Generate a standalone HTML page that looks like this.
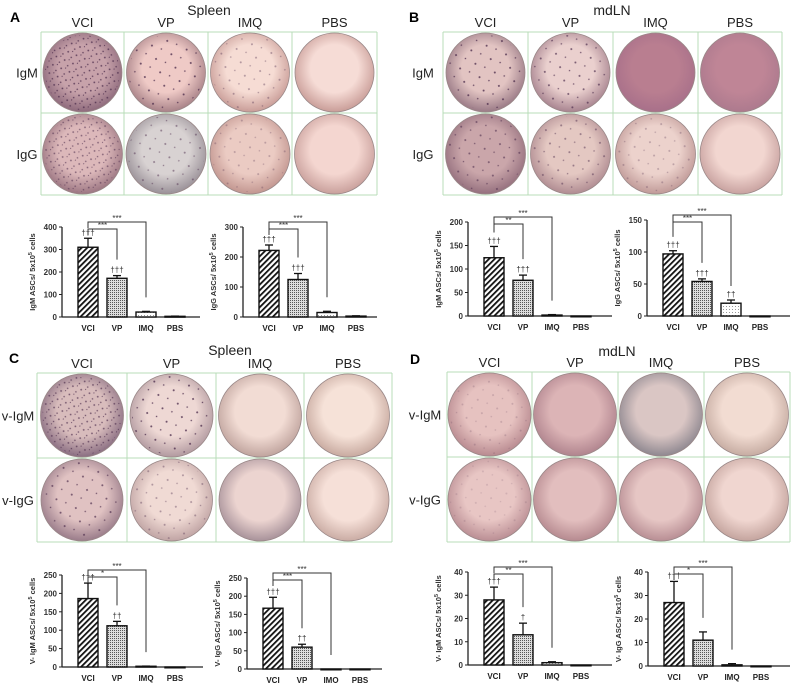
<!DOCTYPE html>
<html><head><meta charset="utf-8"><style>
html,body{margin:0;padding:0;background:#fff}
svg{display:block}
text{font-family:"Liberation Sans",sans-serif}
</style></head><body>
<svg id="fig" width="794" height="683" viewBox="0 0 794 683" xmlns="http://www.w3.org/2000/svg">
<defs>
<pattern id="hatch" width="4" height="4" patternUnits="userSpaceOnUse" patternTransform="rotate(45)">
<rect width="4" height="4" fill="#fff"/><rect width="1.8" height="4" fill="#111"/></pattern>
<pattern id="dense" width="2" height="2" patternUnits="userSpaceOnUse">
<rect width="2" height="2" fill="#ddd"/><rect width="1" height="1" fill="#555"/></pattern>
<pattern id="light" width="3" height="3" patternUnits="userSpaceOnUse">
<rect width="3" height="3" fill="#fff"/><rect width="1" height="1" fill="#999"/></pattern>
<pattern id="speck" width="9" height="9" patternUnits="userSpaceOnUse" patternTransform="rotate(23)">
<circle cx="2" cy="3" r="0.9" fill="#4a2a4a"/><circle cx="7" cy="7" r="0.8" fill="#4a2a4a"/><circle cx="6" cy="1" r="0.6" fill="#4a2a4a"/></pattern>
<pattern id="speck2" width="16" height="14" patternUnits="userSpaceOnUse" patternTransform="rotate(-17)">
<circle cx="4" cy="4" r="1" fill="#4a2a4a"/><circle cx="12" cy="10" r="0.8" fill="#4a2a4a"/></pattern>
</defs>
<g id="photos"></g>
<g id="charts"></g>
</svg>
<script>
const NS="http://www.w3.org/2000/svg";
const categories=['VCI','VP','IMQ','PBS'];
// chart data
const a1Means=[310,172,22,3], a1Errs=[40,12,3,1], a1Dag=['†††','†††','',''], a1Sig=['***','***'];
const a2Means=[222,125,15,3], a2Errs=[18,20,4,1], a2Dag=['†††','†††','',''], a2Sig=['***','***'];
const b1Means=[124,76,2,0], b1Errs=[24,11,1,0], b1Dag=['†††','†††','',''], b1Sig=['**','***'];
const b2Means=[97,54,20,0], b2Errs=[5,4,5,0], b2Dag=['†††','†††','††',''], b2Sig=['***','***'];
const c1Means=[186,112,2,0], c1Errs=[42,12,0.5,0], c1Dag=['†††','††','',''], c1Sig=['*','***'];
const c2Means=[167,60,0,0], c2Errs=[30,8,0,0], c2Dag=['†††','††','',''], c2Sig=['***','***'];
const d1Means=[28,13,1,0], d1Errs=[5.5,5,0.4,0], d1Dag=['†††','†','',''], d1Sig=['**','***'];
const d2Means=[27,11,0.5,0], d2Errs=[9,3.5,0.5,0], d2Dag=['†††','','',''], d2Sig=['*','***'];
const ticksA1=[0,100,200,300,400], ticksA2=[0,100,200,300], ticksB1=[0,50,100,150,200], ticksB2=[0,50,100,150];
const ticksC=[0,50,100,150,200,250], ticksD=[0,10,20,30,40];

function el(t,a,p){const e=document.createElementNS(NS,t);for(const k in a)e.setAttribute(k,a[k]);(p||document.getElementById('charts')).appendChild(e);return e;}

// photo panels
const photos=document.getElementById('photos');
function panel(name,xs,ys,rowLabels,rowLabelX,colors){
  const g=el('g',{},photos);
  
  
  for(let r=0;r<2;r++)for(let c=0;c<4;c++){
    const cx=(xs[c]+xs[c+1])/2, cy=(ys[r]+ys[r+1])/2;
    const rad=Math.min(xs[c+1]-xs[c],ys[r+1]-ys[r])/2-1;
    const col=colors[r][c];
    const gid=name+'g'+r+c;
    const rg=el('radialGradient',{id:gid,cx:'0.5',cy:'0.45',r:'0.55'},g);
    el('stop',{offset:'0',"stop-color":col[1]},rg);
    el('stop',{offset:'0.55',"stop-color":col[1]},rg);
    el('stop',{offset:'1',"stop-color":col[0]},rg);
    const w=el('circle',{cx:cx,cy:cy,r:rad,fill:'url(#'+gid+')',stroke:'#9a8888','stroke-width':'0.8'},g);
    
    
    if(col[2]){const s=el('circle',{cx:cx,cy:cy,r:rad-2,fill:'url(#'+col[2]+')',opacity:col[3]||0.7},g);}
  }
  for(const x of xs)el('line',{x1:x,y1:ys[0],x2:x,y2:ys[2],stroke:'#b9dcb9','stroke-width':1},g);
  for(const y of ys)el('line',{x1:xs[0],y1:y,x2:xs[4],y2:y,stroke:'#b9dcb9','stroke-width':1},g);
  const hd=['VCI','VP','IMQ','PBS'];
  for(let c=0;c<4;c++){const t=el('text',{x:(xs[c]+xs[c+1])/2,y:ys[0]-5,'text-anchor':'middle','font-size':13,fill:'#222'},g);t.textContent=hd[c];
    }
  for(let r=0;r<2;r++){const t=el('text',{x:rowLabelX,y:(ys[r]+ys[r+1])/2+5,'text-anchor':'middle','font-size':13,fill:'#222'},g);t.textContent=rowLabels[r];
    }
}
panel('panel-a-wells',[41,124,208,292,377],[32,113,195],['IgM','IgG'],27,[
 [['#8e6a7c','#c7a2aa','speck',0.8],['#a88288','#efcac6','speck2',0.8],['#c99d98','#f6dcd4','speck2',0.4],['#c99d98','#f6dcd6']],
 [['#9c7682','#dcb8ba','speck',0.6],['#9a9198','#d8d2d2','speck2',0.5],['#c29690','#ebcbc3','speck2',0.3],['#c9a09c','#f4d6d0']]]);
panel('panel-b-wells',[443,528,613,698,782],[32,113,195],['IgM','IgG'],423,[
 [['#9a7a86','#e2c4c2','speck2',0.8],['#a88490','#ead0ce','speck2',0.7],['#a8708a','#b97e90'],['#ad7a8e','#bf8596']],
 [['#95707e','#caa6aa','speck2',0.6],['#b08c92','#e4c8c2','speck2',0.5],['#c09a98','#ecd2cc','speck2',0.3],['#c8a2a0','#f2d6d0']]]);
panel('panel-c-wells',[37,127,216,304,392],[373,458,542],['v-IgM','v-IgG'],18,[
 [['#8a6e82','#d8bcbc','speck',0.7],['#b29aa0','#eed8d4','speck2',0.8],['#c0a49e','#f2dcd4'],['#c8aaa0','#f6e2d8']],
 [['#9a7c8a','#e0c2c2','speck2',0.7],['#c0a4a4','#f0dad4','speck2',0.4],['#a8929a','#ecd4d0'],['#caaca4','#f6e0d8']]]);
panel('panel-d-wells',[447,532,618,704,790],[372,457,542],['v-IgM','v-IgG'],425,[
 [['#b88a90','#e6c2c0','speck2',0.2],['#b0848e','#dcb4b6'],['#8f8890','#dac6c4'],['#c6aca2','#f2dcd2']],
 [['#ba8e94','#e8c6c4','speck2',0.15],['#b68a90','#e2bebe'],['#b88e94','#e6c6c4'],['#c4a49e','#f0d6d0']]]);

// panel titles
[['A',15,22],['B',414,22],['C',14,363],['D',415,364]].forEach(p=>{const t=el('text',{x:p[1],y:p[2],'font-size':14,'font-weight':'bold','text-anchor':'middle'});t.textContent=p[0];
 });
[['Spleen',209,15],['mdLN',612,15],['Spleen',230,355],['mdLN',617,356]].forEach(p=>{const t=el('text',{x:p[1],y:p[2],'font-size':14,'text-anchor':'middle',fill:'#222'});t.textContent=p[0];
 });

// bar charts
const fills=['url(#hatch)','url(#dense)','url(#light)','#fff'];
function chart(name,ax,yTop,yZero,xEnd,max,ticks,means,errs,dags,sigs,label){
  const g=el('g',{});
  
  
  const Y=v=>yZero-(v/max)*(yZero-yTop);
  const X=i=>ax+16+i*29;
  const bw=20;
  el('line',{x1:ax,y1:yTop,x2:ax,y2:yZero,stroke:'#222','stroke-width':1.3},g);
  el('line',{x1:ax,y1:yZero,x2:xEnd,y2:yZero,stroke:'#222','stroke-width':1.3},g);
  ticks.forEach(t=>{el('line',{x1:ax-3,y1:Y(t),x2:ax,y2:Y(t),stroke:'#222'},g);
    const tx=el('text',{x:ax-5,y:Y(t)+3,'text-anchor':'end','font-size':8,'font-weight':'bold',fill:'#333'},g);tx.textContent=t;
    });
  const yl=el('text',{transform:`translate(${ax-27},${(yTop+yZero)/2}) rotate(-90)`,'text-anchor':'middle','font-size':7.5,'font-weight':'bold',fill:'#333'},g);
  yl.innerHTML=label+' 5x10<tspan dy="-3" font-size="5.5">5</tspan><tspan dy="3"> cells</tspan>';
  
  const eTop=[];
  categories.forEach((c,i)=>{
    const x=X(i), v=means[i], e=errs[i];
    const b=el('rect',{x:x,y:Y(v),width:bw,height:Math.max(0.8,yZero-Y(v)),fill:fills[i],stroke:'#111','stroke-width':1.4},g);
    
    
    eTop.push(Y(v+e));
    if(e>0){el('line',{x1:x+bw/2,y1:Y(v),x2:x+bw/2,y2:Y(v+e),stroke:'#111','stroke-width':1.3},g);
      el('line',{x1:x+bw/2-4,y1:Y(v+e),x2:x+bw/2+4,y2:Y(v+e),stroke:'#111','stroke-width':1.3},g);}
    if(dags[i]){const d=el('text',{x:x+bw/2,y:Y(v+e)-3,'text-anchor':'middle','font-size':8,fill:'#333'},g);d.textContent=dags[i];
      }
    const xl=el('text',{x:x+bw/2,y:yZero+14,'text-anchor':'middle','font-size':8,'font-weight':'bold',fill:'#222'},g);xl.textContent=c;
    
  });
  const cx0=X(0)+bw/2;
  [[1,yTop+2,sigs[0]],[2,yTop-5,sigs[1]]].forEach(([j,ly,s])=>{
    const xe=X(j)+bw/2, ye=Math.max(ly+6,eTop[j]-(j==1&&dags[1]?16:14));
    el('polyline',{points:`${cx0},${Math.max(ly+6,eTop[0]-14)} ${cx0},${ly} ${xe},${ly} ${xe},${ye}`,fill:'none',stroke:'#333','stroke-width':1},g);
    const st=el('text',{x:(cx0+xe)/2,y:ly-1,'text-anchor':'middle','font-size':8,fill:'#333'},g);st.textContent=s;
    
  });
}
chart('chart-a-igm',62,227,317,200,400,ticksA1,a1Means,a1Errs,a1Dag,a1Sig,'IgM ASCs/');
chart('chart-a-igg',243,227,317,377,300,ticksA2,a2Means,a2Errs,a2Dag,a2Sig,'IgG ASCs/');
chart('chart-b-igm',468,222,316,612,200,ticksB1,b1Means,b1Errs,b1Dag,b1Sig,'IgM ASCs/');
chart('chart-b-igg',647,220,316,790,150,ticksB2,b2Means,b2Errs,b2Dag,b2Sig,'IgG ASCs/');
chart('chart-c-vigm',62,575,667,203,250,ticksC,c1Means,c1Errs,c1Dag,c1Sig,'V- IgM ASCs/');
chart('chart-c-vigg',247,578,669,382,250,ticksC,c2Means,c2Errs,c2Dag,c2Sig,'V- IgG ASCs/');
chart('chart-d-vigm',468,572,665,612,40,ticksD,d1Means,d1Errs,d1Dag,d1Sig,'V- IgM ASCs/');
chart('chart-d-vigg',648,572,666,790,40,ticksD,d2Means,d2Errs,d2Dag,d2Sig,'V- IgG ASCs/');
</script>
</body></html>
